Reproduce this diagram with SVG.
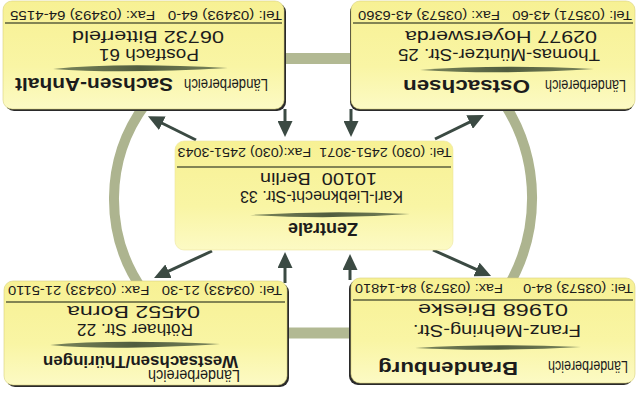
<svg xmlns="http://www.w3.org/2000/svg" width="638" height="394" viewBox="0 0 638 394">
<style>
.box{fill:url(#boxGrad);stroke:#d8d27e;stroke-width:0.6}
.shadow{fill:#2a2a2a}
.sep{stroke:#5b5f3c;stroke-width:1.6}
.swoosh{fill:url(#swGrad)}
.t{font-family:"Liberation Sans",Arial,sans-serif;fill:#1c1c1c}
.tel{font-size:12.5px}
.addr{font-size:17px}
.lb{font-size:17px}
.ttl{font-size:18px;font-weight:bold}
.band{fill:none;stroke:#adb48f;stroke-width:10}
.bar{stroke:#b2b993;stroke-width:11}
.arrow{stroke:#3b4a43;stroke-width:3;fill:none;marker-end:url(#ah)}
</style>
<defs>
<linearGradient id="boxGrad" x1="0" y1="0" x2="0" y2="1">
<stop offset="0" stop-color="#f7f194"/>
<stop offset="0.6" stop-color="#f9f5a4"/>
<stop offset="1" stop-color="#fcfac4"/>
</linearGradient>
<linearGradient id="swGrad" x1="0" y1="0" x2="1" y2="0">
<stop offset="0" stop-color="#7c875c"/>
<stop offset="0.5" stop-color="#505c3e"/>
<stop offset="1" stop-color="#7c875c"/>
</linearGradient>
<marker id="ah" markerUnits="userSpaceOnUse" markerWidth="16" markerHeight="15" viewBox="0 0 16 15" refX="4" refY="7.5" orient="auto">
<path d="M0,0 L16,7.5 L0,15 Z" fill="#3b4a43"/>
</marker>
</defs>
<rect width="638" height="394" fill="#ffffff"/>

<g id="connectors">
<path class="band" d="M145.5,104 A159,159 0 0 0 144,292"/>
<path class="band" d="M504.6,104 A175,175 0 0 1 506,290"/>
<line class="bar" x1="280" y1="58.5" x2="356" y2="58.5"/>
<line class="bar" x1="282" y1="333" x2="356" y2="333"/>
<line class="arrow" x1="196" y1="140" x2="158.7" y2="121.5"/>
<line class="arrow" x1="435" y1="139" x2="473.2" y2="120.3"/>
<line class="arrow" x1="212" y1="251" x2="164.9" y2="272.9"/>
<line class="arrow" x1="433" y1="250" x2="480.1" y2="271.1"/>
<line class="arrow" x1="285" y1="109" x2="285" y2="125"/>
<line class="arrow" x1="351" y1="109" x2="351" y2="125"/>
<line class="arrow" x1="285" y1="283" x2="285" y2="264"/>
<line class="arrow" x1="350" y1="280" x2="350" y2="266"/>
</g>

<g id="node-sachsen-anhalt">
<rect class="shadow" x="5" y="3" width="281" height="108" rx="9"/>
<rect class="box" x="3" y="1" width="281" height="108" rx="9"/>
<line class="sep" x1="5" y1="23" x2="282" y2="23"/>
<path class="swoosh" d="M53,69 Q120,62 228,68 Q120,74 53,69 Z"/>
<text class="t tel" x="146" y="11" text-anchor="middle" textLength="272" lengthAdjust="spacingAndGlyphs" transform="rotate(180 146 11)" xml:space="preserve">Tel: (03493) 64-0   Fax: (03493) 64-4155</text>
<text class="t addr" x="148" y="30.5" text-anchor="middle" textLength="152" lengthAdjust="spacingAndGlyphs" transform="rotate(180 148 30.5)">06732 Bitterfeld</text>
<text class="t addr" x="149" y="48.5" text-anchor="middle" textLength="100" lengthAdjust="spacingAndGlyphs" transform="rotate(180 149 48.5)">Postfach 61</text>
<text class="t lb" font-size="17" x="226" y="79" text-anchor="middle" textLength="84" lengthAdjust="spacingAndGlyphs" transform="rotate(180 226 79)">Länderbereich</text>
<text class="t ttl" x="94" y="78" text-anchor="middle" textLength="158" lengthAdjust="spacingAndGlyphs" transform="rotate(180 94 78)">Sachsen-Anhalt</text>
</g>

<g id="node-ostsachsen">
<rect class="shadow" x="350" y="3" width="284" height="108" rx="9"/>
<rect class="box" x="351" y="1" width="284" height="108" rx="9"/>
<line class="sep" x1="353" y1="23" x2="633" y2="23"/>
<path class="swoosh" d="M420,70 Q500,64 594,69 Q500,75 420,70 Z"/>
<text class="t tel" x="495" y="11" text-anchor="middle" textLength="274" lengthAdjust="spacingAndGlyphs" transform="rotate(180 495 11)" xml:space="preserve">Tel: (03571) 43-60   Fax: (03573) 43-6360</text>
<text class="t addr" x="501" y="31" text-anchor="middle" textLength="192" lengthAdjust="spacingAndGlyphs" transform="rotate(180 501 31)">02977 Hoyerswerda</text>
<text class="t addr" x="499" y="48.5" text-anchor="middle" textLength="202" lengthAdjust="spacingAndGlyphs" transform="rotate(180 499 48.5)">Thomas-Müntzer-Str. 25</text>
<text class="t lb" font-size="17" x="585.5" y="80" text-anchor="middle" textLength="81" lengthAdjust="spacingAndGlyphs" transform="rotate(180 585.5 80)">Länderbereich</text>
<text class="t ttl" x="466.5" y="79.5" text-anchor="middle" textLength="127" lengthAdjust="spacingAndGlyphs" transform="rotate(180 466.5 79.5)">Ostsachsen</text>
</g>

<g id="node-zentrale">
<rect class="box" x="175" y="141" width="278" height="109" rx="9" style="stroke:#ece6a0"/>
<line class="sep" x1="177" y1="167" x2="451" y2="167"/>
<path class="swoosh" d="M250,215 Q330,210 410,214 Q330,220 250,215 Z"/>
<text class="t tel" x="314.5" y="148" text-anchor="middle" textLength="274" lengthAdjust="spacingAndGlyphs" transform="rotate(180 314.5 148)" xml:space="preserve">Tel: (030) 2451-3071  Fax:(030) 2451-3043</text>
<text class="t addr" x="318.5" y="172.5" text-anchor="middle" textLength="117" lengthAdjust="spacingAndGlyphs" transform="rotate(180 318.5 172.5)" xml:space="preserve">10100  Berlin</text>
<text class="t addr" x="321.5" y="190.5" text-anchor="middle" textLength="163" lengthAdjust="spacingAndGlyphs" transform="rotate(180 321.5 190.5)">Karl-Liebknecht-Str. 33</text>
<text class="t ttl" x="323" y="222.5" text-anchor="middle" textLength="70" lengthAdjust="spacingAndGlyphs" transform="rotate(180 323 222.5)">Zentrale</text>
</g>

<g id="node-westsachsen-thueringen">
<rect class="shadow" x="6" y="283" width="283" height="104" rx="9"/>
<rect class="box" x="4" y="281" width="283" height="104" rx="9"/>
<line class="sep" x1="6" y1="302" x2="285" y2="302"/>
<path class="swoosh" d="M50,345 Q110,339 220,344 Q110,351 50,345 Z"/>
<text class="t tel" x="145" y="286" text-anchor="middle" textLength="274" lengthAdjust="spacingAndGlyphs" transform="rotate(180 145 286)" xml:space="preserve">Tel: (03433) 21-30   Fax: (03433) 21-5110</text>
<text class="t addr" x="133.5" y="305.5" text-anchor="middle" textLength="133" lengthAdjust="spacingAndGlyphs" transform="rotate(180 133.5 305.5)">04552 Borna</text>
<text class="t addr" x="135" y="323.5" text-anchor="middle" textLength="116" lengthAdjust="spacingAndGlyphs" transform="rotate(180 135 323.5)">Röthaer Str. 22</text>
<text class="t ttl" x="140.5" y="355.5" text-anchor="middle" textLength="195" lengthAdjust="spacingAndGlyphs" transform="rotate(180 140.5 355.5)" style="font-size:17px">Westsachsen/Thüringen</text>
<text class="t lb" font-size="16" x="194" y="370" text-anchor="middle" textLength="92" lengthAdjust="spacingAndGlyphs" transform="rotate(180 194 370)">Länderbereich</text>
</g>

<g id="node-brandenburg">
<rect class="shadow" x="349" y="280" width="284" height="105" rx="9"/>
<rect class="box" x="351" y="278" width="284" height="105" rx="9"/>
<line class="sep" x1="353" y1="300" x2="633" y2="300"/>
<path class="swoosh" d="M415,348 Q490,343 581,347 Q490,352 415,348 Z"/>
<text class="t tel" x="494" y="284" text-anchor="middle" textLength="278" lengthAdjust="spacingAndGlyphs" transform="rotate(180 494 284)" xml:space="preserve">Tel: (03573) 84-0     Fax: (03573) 84-14810</text>
<text class="t addr" x="493" y="304" text-anchor="middle" textLength="150" lengthAdjust="spacingAndGlyphs" transform="rotate(180 493 304)">01968 Brieske</text>
<text class="t addr" x="497" y="325" text-anchor="middle" textLength="168" lengthAdjust="spacingAndGlyphs" transform="rotate(180 497 325)">Franz-Mehring-Str.</text>
<text class="t lb" font-size="17" x="588" y="361" text-anchor="middle" textLength="80" lengthAdjust="spacingAndGlyphs" transform="rotate(180 588 361)">Länderbereich</text>
<text class="t ttl" x="448" y="362" text-anchor="middle" textLength="140" lengthAdjust="spacingAndGlyphs" transform="rotate(180 448 362)">Brandenburg</text>
</g>
</svg>
